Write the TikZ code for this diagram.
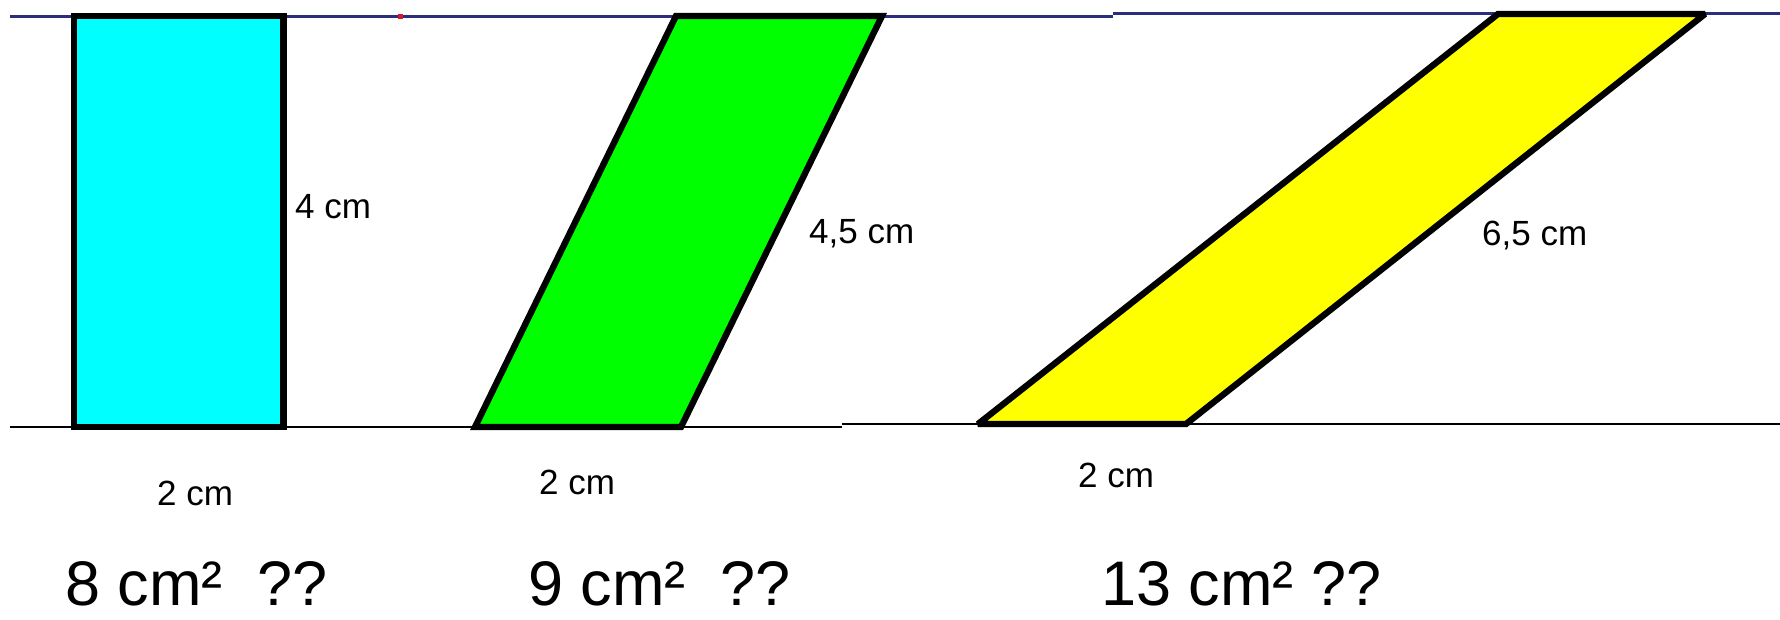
\documentclass[tikz,border=0pt]{standalone}
\usepackage{fontspec}
\setmainfont{Liberation Sans}
\definecolor{topblue}{RGB}{45,45,125}
\definecolor{baseline}{RGB}{60,60,60}
\definecolor{cyanfill}{RGB}{0,255,255}
\definecolor{greenfill}{RGB}{0,255,0}
\definecolor{yellowfill}{RGB}{255,255,0}
\definecolor{dotred}{RGB}{220,20,40}
\tikzset{
  refline/.style={topblue,line width=3pt},
  groundline/.style={baseline,line width=2.4pt},
  shapeedge/.style={draw=black,line width=6.3pt,line join=miter,miter limit=3},
  smalllabel/.style={anchor=base west,inner sep=0pt,font=\fontsize{35}{40}\selectfont},
  biglabel/.style={anchor=base west,inner sep=0pt,font=\fontsize{63}{70}\selectfont},
}
\begin{document}
\begin{tikzpicture}[x=1pt,y=-1pt]
\useasboundingbox (0,0) rectangle (1780,619);
% reference lines
\coordinate (tl1) at (10,16);
\coordinate (tl2) at (1113,16);
\coordinate (tl3) at (1113,13.5);
\coordinate (tl4) at (1780,13.5);
\coordinate (bl1) at (10,427);
\coordinate (bl2) at (842,427);
\coordinate (bl3) at (842,424);
\coordinate (bl4) at (1780,424);
\draw[refline] (tl1) -- (tl2);
\draw[refline] (tl3) -- (tl4);
\draw[groundline] (bl1) -- (bl2);
\draw[groundline] (bl3) -- (bl4);
\fill[dotred] (397.5,13.5) rectangle (402.5,18.5);
% rectangle
\coordinate (ra) at (74,427);
\coordinate (rb) at (283.5,427);
\coordinate (rc) at (283.5,16);
\coordinate (rd) at (74,16);
\filldraw[shapeedge,fill=cyanfill] (ra) -- (rb) -- (rc) -- (rd) -- cycle;
% green parallelogram
\coordinate (ga) at (475,427);
\coordinate (gb) at (681,427);
\coordinate (gc) at (882,16);
\coordinate (gd) at (676,16);
\filldraw[shapeedge,fill=greenfill] (ga) -- (gb) -- (gc) -- (gd) -- cycle;
% yellow parallelogram
\coordinate (ya) at (978,424);
\coordinate (yb) at (1186,424);
\coordinate (yc) at (1705,14);
\coordinate (yd) at (1498,14);
\filldraw[shapeedge,fill=yellowfill] (ya) -- (yb) -- (yc) -- (yd) -- cycle;
% side labels
\node[smalllabel] (l4) at (295,218) {4 cm};
\node[smalllabel] (l45) at (809,243) {4,5 cm};
\node[smalllabel] (l65) at (1482,245) {6,5 cm};
% base labels
\node[smalllabel] (b1) at (157,505) {2 cm};
\node[smalllabel] (b2) at (539,494) {2 cm};
\node[smalllabel] (b3) at (1078,487) {2 cm};
% areas
\node[biglabel] (a1) at (65,605) {8 cm²\ \ ??};
\node[biglabel] (a2) at (528,605) {9 cm²\ \ ??};
\node[biglabel] (a3) at (1101,605) {13 cm² ??};
\end{tikzpicture}
\end{document}
